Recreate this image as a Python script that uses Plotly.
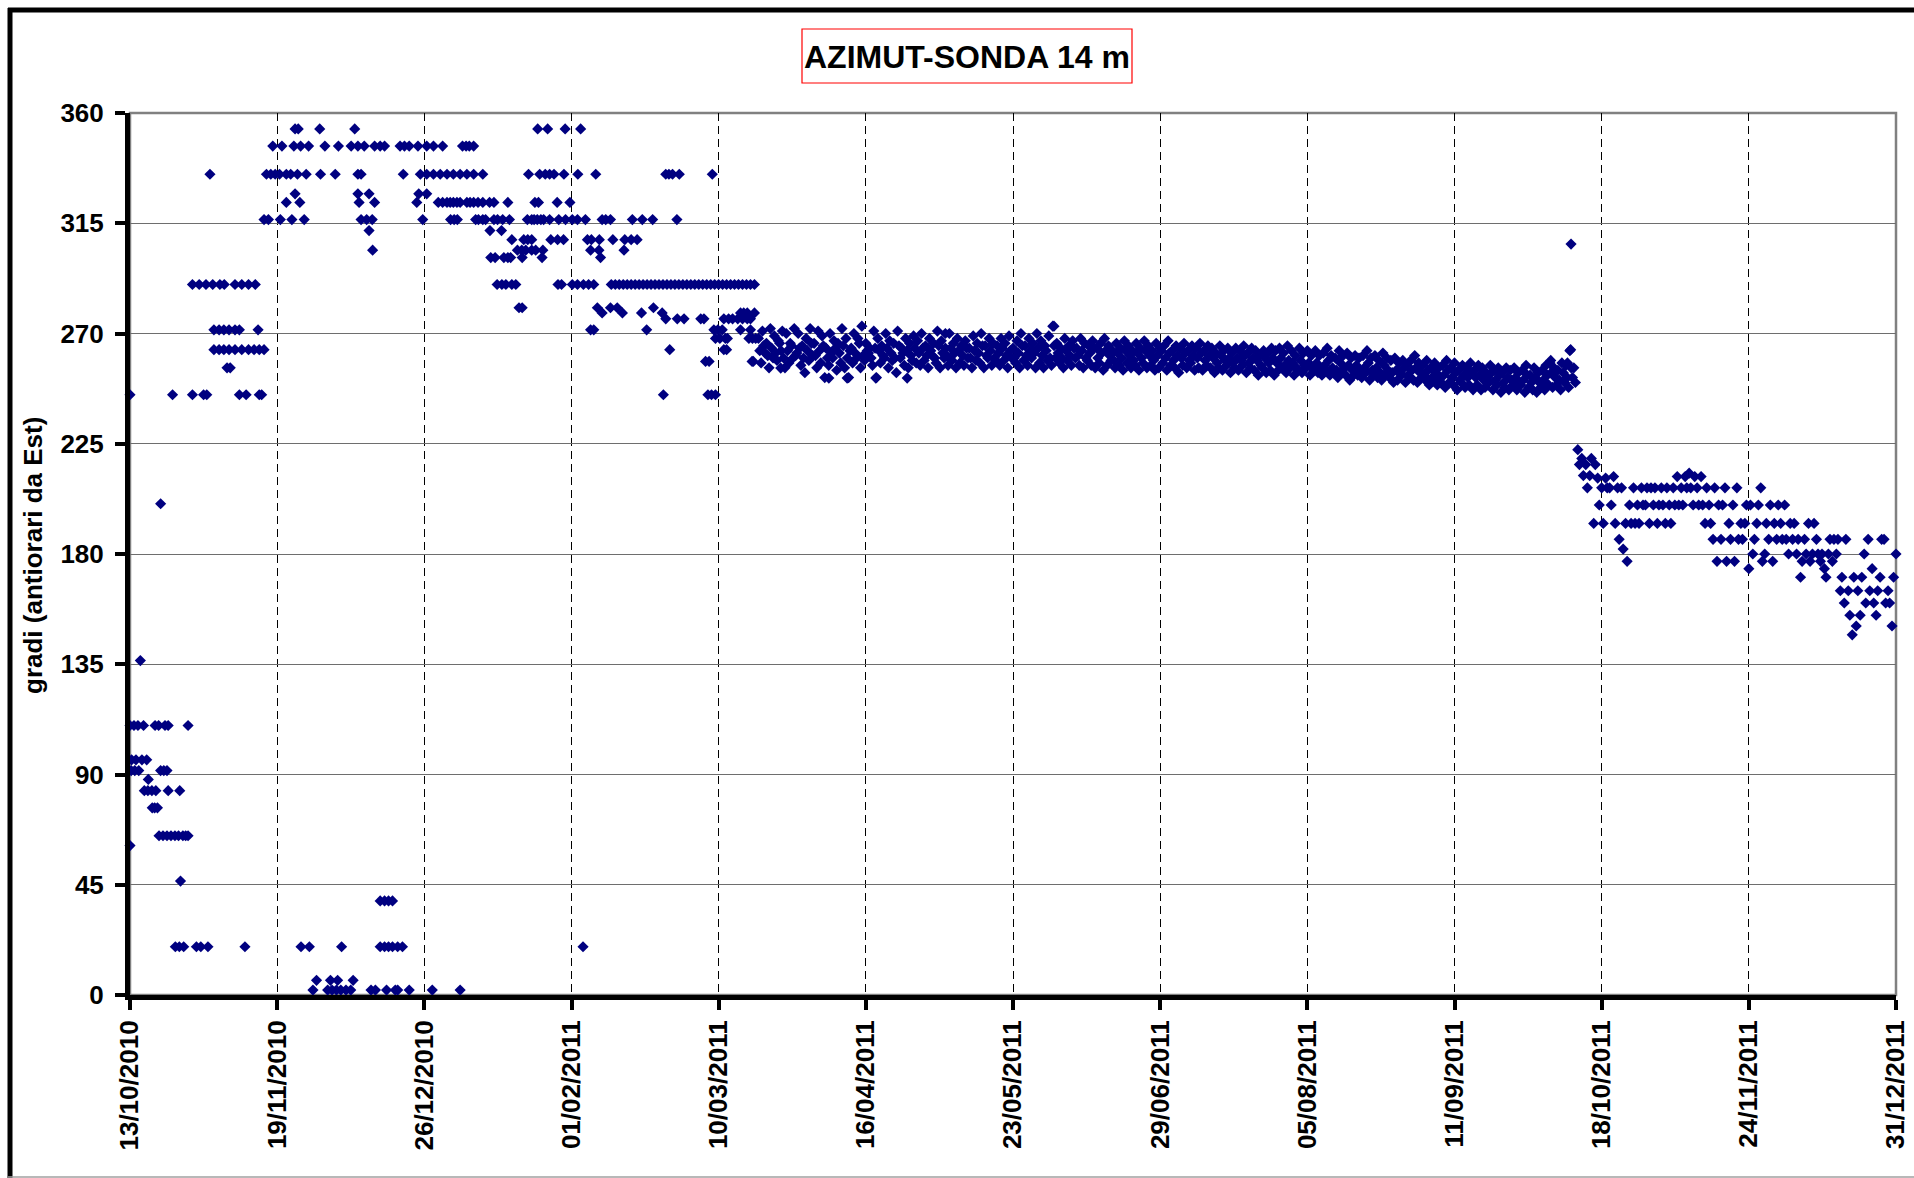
import pandas as pd
import plotly.graph_objects as go

# ---------------- data ----------------
START_DATE = "2010-10-13"

# early period: quantised readings, grouped by level (degrees) -> day offsets from START_DATE
early_levels = [353.5, 346.5, 335, 327, 323.5, 316.5, 312, 308.3, 304, 301, 290, 280.5,
                278.4, 276, 271.5, 268, 263.4, 258.6, 256, 245, 200.5, 136.5, 110, 96,
                91.6, 88, 83.4, 76.4, 65, 61, 46.5, 38.4, 19.7, 6, 2]
early_level_days = [
    [41.5, 42.3, 47.7, 56.5, 102.5, 105, 109.4, 113.3],
    [35.9, 38.2, 41.2, 42.9, 44.9, 49, 52.4, 55.6, 57.3, 58.9, 61.5, 62.9, 64, 67.9, 69, 70.2,
     72.4, 74.6, 76.3, 78.6, 83.6, 84.5, 85.3, 86.4],
    [20.1, 34.3, 35.4, 36.5, 37.6, 39.3, 40.4, 42.1, 44.3, 47.9, 51.6, 57.3, 58.1, 68.7, 73,
     74.6, 76.3, 78, 79.7, 81.3, 83, 84.7, 86.4, 88.7, 100.2, 103, 104.4, 105.5, 106.6, 109.1,
     112.6, 117.1, 134.7, 135.5, 136.4, 138.1, 146.4],
    [41.5, 57.3, 60.1, 72.6, 74.6],
    [39.3, 42.7, 57.6, 61.5, 72.1, 77.5, 78.6, 79.7, 80.5, 81.3, 82.2, 83, 84.7, 85.5, 86.4,
     87.5, 88.7, 90.4, 91.5, 95, 101.8, 102.7, 107.4, 110.6],
    [33.7, 34.8, 37.8, 40.7, 43.8, 58.1, 59.5, 60.9, 73.6, 80.6, 81.5, 82.3, 86.9, 87.6, 88.7,
     89.4, 91.5, 92.4, 93.7, 95.4, 99.9, 101, 101.6, 102.4, 103.3, 104, 105.5, 107.8, 109.5,
     111.2, 112.5, 114.5, 118.7, 119.6, 120.8, 126.3, 128.8, 131.4, 137.5],
    [60.1, 90.5, 93.4],
    [96, 99, 100, 101, 105.8, 107.5, 109, 115, 116, 118, 121.4, 124.4, 126, 127.5],
    [61, 97.4, 98.5, 99.5, 101, 102, 103.8, 115.8, 117.9, 124.2],
    [90.7, 91.8, 94, 95, 95.7, 98.6, 103.6, 118.3],
    [15.7, 17.4, 19.1, 20.8, 22.6, 23.7, 26.4, 28.1, 29.8, 31.5, 92.3, 93.5, 94.5, 96, 97,
     107.6, 108.5, 111.2, 112.5, 114, 115.3, 116.6, 121, 122, 123, 124, 125, 126, 127, 128,
     129, 130, 131, 132, 133, 134, 135, 136, 137, 138, 139, 140, 141, 142, 143, 144, 145,
     146, 147, 148, 149, 150, 151, 152, 153, 154, 155, 156, 157],
    [97.8, 98.6, 117.5, 120.8, 122.5, 131.6],
    [118.7, 123.8, 128.6, 133.8, 153.5, 154.3, 155.2, 157],
    [134.7, 137.6, 139.3, 143.5, 144.3, 149.3, 150.5, 151.5, 152.8, 154, 155.2, 156],
    [21.1, 22.4, 23.6, 24.9, 26.4, 27.5, 32.2, 115.8, 116.6, 129.9, 146.8, 147.8, 148.9,
     153.5, 156],
    [147.2, 148.3, 149.7, 150.2, 155.6, 156.5, 157.3],
    [21.1, 22.4, 23.6, 24.9, 26.4, 28.1, 29.8, 31.2, 32.5, 33.7, 135.7, 149.3, 150],
    [144.7, 145.6, 156.4, 156.7],
    [24.4, 25.2],
    [0, 10.7, 15.7, 18.5, 19.3, 27.5, 29.2, 32.5, 33.1, 134.1, 145.3, 146.2, 147.2],
    [7.7],
    [2.6],
    [0, 1, 2, 3.4, 6.3, 7.2, 8.8, 9.6, 14.6],
    [0.4, 1.5, 3, 4.2],
    [0.3, 1.2, 2.2, 7.7, 8.5, 9.3],
    [4.6],
    [3.6, 4.5, 5.5, 6.5, 9.6, 12.5],
    [5.6, 6.2, 6.9],
    [7.3, 8.3, 9.3, 10.3, 11.3, 12.2, 13.3, 14, 14.6],
    [0],
    [12.7],
    [62.9, 64, 65, 66],
    [11.4, 12.4, 13.5, 16.7, 17.8, 19.6, 28.9, 43, 45.1, 53.2, 62.9, 64, 65, 66, 67.3, 68.5,
     113.9],
    [46.9, 50.4, 52.2, 56.1],
    [46, 49.7, 50.8, 51.9, 53, 54.3, 55.5, 60.6, 61.7, 64.5, 66.7, 67.3, 70.2, 76, 83],
]

# dense period: three readings per day, starting at day 158
dense_start_day = 158
dense_a = [268, 271, 266, 272, 269, 267, 271, 270, 266, 272,
           270, 265, 268, 272, 266, 271, 269, 264, 270, 267,
           266, 272, 268, 263, 270, 268, 273, 266, 264, 271,
           268, 265, 270, 267, 266, 271, 264, 268, 266, 269,
           267, 270, 265, 268, 266, 271, 267, 264, 270, 266,
           268, 265, 267, 264, 269, 266, 270, 265, 268, 266,
           265, 268, 266, 269, 264, 267, 270, 265, 268, 266,
           270, 267, 265, 269, 273, 266, 264, 268, 265, 267,
           264, 268, 266, 265, 267, 264, 266, 268, 265, 263,
           266, 264, 267, 265, 263, 266, 264, 267, 265, 263,
           266, 264, 265, 267, 263, 265, 264, 266, 263, 265,
           264, 266, 263, 265, 264, 262, 265, 263, 264, 262,
           264, 263, 265, 262, 264, 263, 261, 263, 262, 264,
           263, 264, 262, 265, 263, 261, 264, 262, 263, 261,
           263, 261, 262, 264, 261, 260, 263, 261, 262, 260,
           261, 260, 261, 263, 260, 261, 259, 262, 260, 259,
           260, 258, 259, 257, 259, 261, 258, 257, 259, 256,
           258, 256, 257, 259, 256, 258, 255, 257, 256, 258,
           255, 257, 256, 254, 257, 255, 256, 254, 256, 255,
           256, 254, 255, 257, 253, 256, 254, 255, 257, 258,
           256, 255, 258, 257, 263]
dense_c = [263, 265, 261, 264, 262, 266, 260, 263, 265, 261,
           264, 260, 263, 266, 261, 263, 265, 260, 262, 264,
           262, 265, 260, 264, 262, 266, 261, 263, 260, 264,
           263, 261, 264, 262, 260, 265, 262, 263, 261, 264,
           262, 264, 261, 263, 260, 265, 262, 261, 264, 262,
           263, 261, 264, 260, 263, 262, 265, 261, 263, 260,
           262, 264, 261, 263, 260, 262, 265, 261, 263, 262,
           264, 261, 263, 260, 265, 262, 260, 263, 261, 264,
           261, 263, 260, 262, 264, 260, 262, 263, 261, 259,
           262, 260, 263, 261, 259, 262, 260, 263, 261, 259,
           261, 263, 260, 262, 259, 261, 260, 262, 259, 261,
           260, 262, 259, 261, 260, 258, 261, 259, 260, 258,
           260, 259, 261, 258, 260, 259, 257, 260, 258, 260,
           258, 260, 257, 259, 258, 256, 259, 257, 258, 256,
           258, 256, 257, 259, 256, 255, 258, 256, 257, 255,
           257, 255, 256, 258, 255, 256, 254, 257, 255, 254,
           255, 254, 256, 253, 255, 256, 254, 253, 255, 252,
           254, 252, 253, 255, 252, 254, 251, 253, 252, 254,
           252, 253, 251, 252, 254, 251, 253, 250, 252, 251,
           252, 250, 251, 253, 250, 252, 250, 251, 253, 254,
           252, 251, 254, 252, 256]
dense_b = [258, 262, 256, 260, 259, 263, 256, 258, 260, 262,
           257, 254, 259, 261, 256, 258, 252, 257, 260, 255,
           258, 256, 252, 258, 260, 256, 259, 262, 257, 252,
           258, 260, 256, 259, 254, 260, 257, 256, 259, 258,
           257, 259, 256, 261, 258, 256, 260, 257, 259, 256,
           258, 257, 260, 256, 259, 258, 256, 260, 257, 259,
           257, 259, 256, 260, 258, 256, 259, 257, 260, 256,
           258, 256, 259, 257, 260, 258, 256, 259, 257, 260,
           257, 256, 259, 257, 256, 258, 255, 257, 259, 256,
           257, 255, 258, 256, 257, 255, 258, 256, 257, 255,
           256, 258, 255, 257, 256, 254, 257, 256, 258, 255,
           256, 255, 257, 256, 254, 256, 255, 257, 254, 256,
           255, 257, 254, 256, 255, 253, 256, 254, 255, 253,
           255, 256, 254, 256, 253, 255, 254, 256, 253, 255,
           254, 253, 255, 253, 254, 252, 254, 253, 251, 253,
           253, 252, 254, 251, 253, 252, 251, 253, 252, 250,
           251, 253, 250, 252, 251, 250, 252, 251, 249, 251,
           249, 250, 248, 250, 249, 247, 250, 248, 249, 247,
           249, 247, 248, 250, 247, 249, 246, 248, 247, 249,
           247, 249, 246, 248, 247, 246, 248, 247, 249, 248,
           249, 247, 250, 248, 252]

# late period (after the jump): two readings per day, starting at day 363
late_start_day = 363
late_a = [256, 222.6, 219, 216.5, 212, 192.5, 211, 207, 211, 207,
          211.6, 207, 207, 192.5, 200, 207, 200, 207, 200, 192.5,
          200, 192.5, 207, 192.5, 200, 207, 211.6, 207, 211.6, 213,
          200, 207, 211.6, 192.5, 200, 186, 177, 186, 207, 192.5,
          200, 207, 192.5, 192.5, 174, 180, 192.5, 207, 180, 186,
          177, 186, 192.5, 200, 180, 186, 180, 170.5, 186, 192.5,
          180, 186, 177, 174, 180, 177, 180, 165, 160, 165,
          147, 150.6, 155, 180, 186, 174, 155, 170.5, 186, 165,
          150.6, 180]
late_b = [250, 216.5, 212, 207, 219, 216.5, 200, 192.5, 207, 200,
          192.5, 186, 182, 177, 192.5, 192.5, 192.5, 200, 207, 207,
          207, 200, 200, 207, 192.5, 200, 200, 200, 207, 207,
          211.6, 200, 200, 207, 192.5, 207, 200, 200, 177, 186,
          177, 186, 186, 200, 200, 186, 200, 177, 192.5, 200,
          192.5, 200, 186, 186, 192.5, 192.5, 186, 177, 180, 177,
          192.5, 180, 180, 170.5, 186, 186, 186, 170.5, 186, 155,
          170.5, 165, 170.5, 160, 165, 160, 165, 186, 160, 160,
          170.5, 160]

# isolated readings
extra_days = [163.6, 175.7, 180.3, 187.5, 195.4, 205, 232.3, 357.2, 361.4, 362.2, 362.3]
extra_vals = [255.9, 251.8, 251.8, 251.8, 251.8, 270, 273, 259, 258, 263.4, 306.5]

# axis
y_ticks = [0, 45, 90, 135, 180, 225, 270, 315, 360]
x_tick_step_days = 37
END_DATE = "2011-12-31"

# ---------------- build ----------------
days, vals = [], []
for lvl, dl in zip(early_levels, early_level_days):
    days += dl
    vals += [lvl] * len(dl)
for arr, off in ((dense_a, 0.0), (dense_c, 0.33), (dense_b, 0.67)):
    for i, v in enumerate(arr):
        days.append(dense_start_day + i + off); vals.append(v)
for arr, off in ((late_a, 0.0), (late_b, 0.4)):
    for i, v in enumerate(arr):
        days.append(late_start_day + i + off); vals.append(v)
days += extra_days
vals += extra_vals

x = pd.Timestamp(START_DATE) + pd.to_timedelta(pd.Series(days), unit="D")

FONT = "Liberation Sans, Arial, sans-serif"
W, H = 1914, 1178
L, R, T, B = 130, 18, 113, 183
PW, PH = W - L - R, H - T - B


def px_x(px):
    return (px - L) / PW


def px_y(py):
    return (H - B - py) / PH


fig = go.Figure()
fig.add_trace(go.Scatter(
    x=x, y=vals, mode="markers",
    marker=dict(symbol="diamond", size=8.6, color="#000080", line=dict(width=0)),
    cliponaxis=False, showlegend=False, hoverinfo="x+y",
))

fig.update_layout(
    width=W, height=H, autosize=False,
    margin=dict(l=L, r=R, t=T, b=B, pad=0, autoexpand=False),
    paper_bgcolor="white", plot_bgcolor="white",
    font=dict(family=FONT, color="black"),
    showlegend=False,
    xaxis=dict(
        type="date",
        range=[START_DATE, END_DATE],
        tick0=START_DATE, dtick=x_tick_step_days * 86400000,
        tickformat="%d/%m/%Y", tickangle=-90,
        tickfont=dict(family=FONT, size=26, color="black", weight="bold"),
        showgrid=True, gridcolor="black", gridwidth=1, griddash="8px,5px",
        showline=True, linecolor="black", linewidth=5,
        ticks="outside", ticklen=10, tickwidth=4, tickcolor="black",
        zeroline=False, fixedrange=True, automargin=False,
    ),
    yaxis=dict(
        range=[0, 360], tickvals=y_ticks,
        tickfont=dict(family=FONT, size=26, color="black", weight="bold"),
        showgrid=True, gridcolor="#6e6e6e", gridwidth=1.2,
        showline=True, linecolor="black", linewidth=5,
        ticks="outside", ticklen=10, tickwidth=4, tickcolor="black",
        ticklabelstandoff=6,
        zeroline=False, fixedrange=True, automargin=False,
    ),
    shapes=[
        # plot-area frame (grey)
        dict(type="rect", xref="paper", yref="paper", x0=0, x1=1, y0=0, y1=1,
             line=dict(color="#808080", width=2.5), layer="below"),
        # title box
        dict(type="rect", xref="paper", yref="paper",
             x0=px_x(802), x1=px_x(1132), y0=px_y(83), y1=px_y(29),
             line=dict(color="#ff0000", width=1.2), fillcolor="white"),
        # outer chart border
        dict(type="line", xref="paper", yref="paper",
             x0=px_x(8), x1=px_x(1920), y0=px_y(10), y1=px_y(10),
             line=dict(color="black", width=5)),
        dict(type="line", xref="paper", yref="paper",
             x0=px_x(10), x1=px_x(10), y0=px_y(8), y1=px_y(1180),
             line=dict(color="black", width=5)),
        dict(type="line", xref="paper", yref="paper",
             x0=px_x(8), x1=px_x(1920), y0=px_y(1177), y1=px_y(1177),
             line=dict(color="#a0a0a0", width=1.5)),
    ],
    annotations=[
        dict(text="AZIMUT-SONDA 14 m", xref="paper", yref="paper",
             x=px_x(967), y=px_y(57), xanchor="center", yanchor="middle",
             showarrow=False,
             font=dict(family=FONT, size=32, color="black", weight="bold")),
        dict(text="gradi (antiorari da Est)", xref="paper", yref="paper",
             x=px_x(33), y=px_y(556), xanchor="center", yanchor="middle",
             textangle=-90, showarrow=False,
             font=dict(family=FONT, size=26, color="black", weight="bold")),
    ],
)

fig.write_html("out.html")
